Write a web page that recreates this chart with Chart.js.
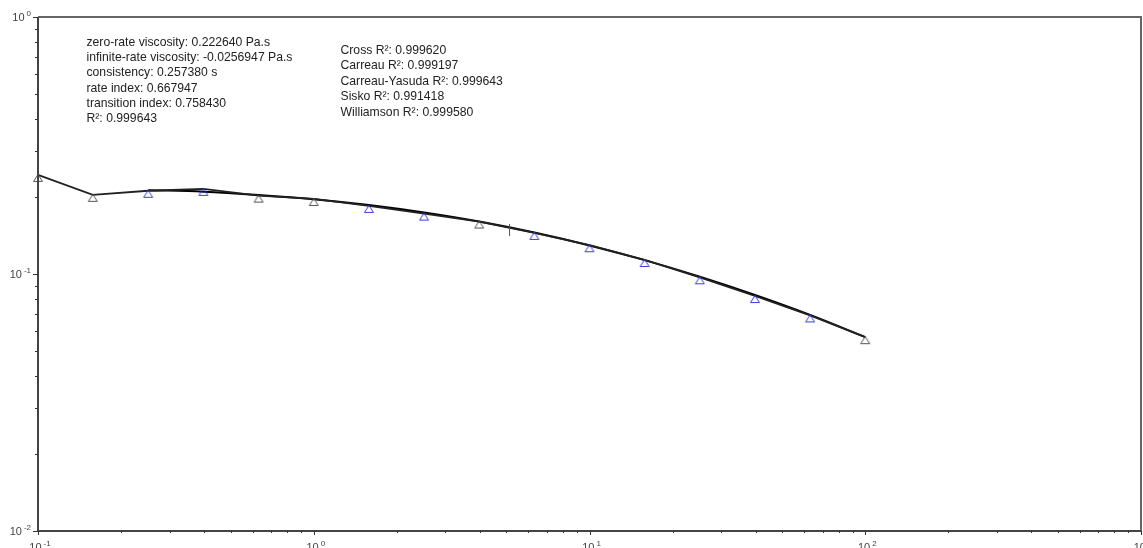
<!DOCTYPE html>
<html>
<head>
<meta charset="utf-8">
<script src="https://cdn.jsdelivr.net/npm/chart.js@4.4.1/dist/chart.umd.min.js"></script>
<style>
  html, body { margin: 0; padding: 0; background: #fff; }
  #wrap { width: 1143px; height: 548px; }
</style>
</head>
<body>
<div id="wrap"><canvas id="myChart" width="1143" height="548"></canvas></div>
<script>
// shear rate (x) and viscosity (y)
var shearRates = [0.1, 0.158, 0.251, 0.398, 0.631, 1, 1.585, 2.512, 3.981, 6.31, 10, 15.85, 25.12, 39.81, 63.1, 100];
var viscosity = [0.243, 0.2032, 0.2108, 0.2145, 0.2019, 0.196, 0.1841, 0.1718, 0.160, 0.1445, 0.1294, 0.1134, 0.0971, 0.0821, 0.069, 0.0568];
// which points are drawn blue (1) or grey (0)
var pointSelected = [0, 0, 1, 1, 0, 0, 1, 1, 0, 1, 1, 1, 1, 1, 1, 0];

// Carreau-Yasuda fit curve
var fitRates = [0.251, 0.398, 0.631, 1, 1.585, 2.512, 3.981, 6.31, 10, 15.85, 25.12, 39.81, 63.1, 100];
var fitViscosity = [0.212, 0.209, 0.203, 0.1955, 0.1855, 0.1735, 0.160, 0.145, 0.1292, 0.1132, 0.0976, 0.0829, 0.0693, 0.0568];

var markerRate = [5.13];
var markerViscosity = [0.1484];

var xDecades = [0.1, 1, 10, 100, 1000];
var xExponents = ["-1", "0", "1", "2", "3"];
var yDecades = [1, 0.1, 0.01];
var yExponents = ["0", "-1", "-2"];

var paramLines = [
    "zero-rate viscosity: 0.222640 Pa.s",
    "infinite-rate viscosity: -0.0256947 Pa.s",
    "consistency: 0.257380 s",
    "rate index: 0.667947",
    "transition index: 0.758430",
    "R\u00b2: 0.999643"
];
var modelLines = [
    "Cross R\u00b2: 0.999620",
    "Carreau R\u00b2: 0.999197",
    "Carreau-Yasuda R\u00b2: 0.999643",
    "Sisko R\u00b2: 0.991418",
    "Williamson R\u00b2: 0.999580"
];

function makeTriangle(color) {
    var c = document.createElement('canvas');
    c.width = 12;
    c.height = 16;
    var g = c.getContext('2d');
    g.strokeStyle = color;
    g.lineWidth = 1;
    g.beginPath();
    g.moveTo(6, 7.5);
    g.lineTo(10.5, 14.5);
    g.lineTo(1.5, 14.5);
    g.closePath();
    g.stroke();
    return c;
}
var greyTri = makeTriangle('#555');
var blueTri = makeTriangle('#3b3bea');

function toPoints(xs, ys) {
    var pts = [];
    for (var i = 0; i < xs.length; i++) pts.push({ x: xs[i], y: ys[i] });
    return pts;
}

function drawLabel(ctx, x, y, exp, align) {
    ctx.font = '11px "Liberation Sans", Arial, sans-serif';
    var w1 = ctx.measureText('10').width;
    ctx.font = '8px "Liberation Sans", Arial, sans-serif';
    var w2 = ctx.measureText(exp).width;
    var gap = 2;
    var x0 = align === 'right' ? x - (w1 + gap + w2) : x - (w1 + gap + w2) / 2;
    ctx.textAlign = 'left';
    ctx.textBaseline = 'alphabetic';
    ctx.font = '11px "Liberation Sans", Arial, sans-serif';
    ctx.fillText('10', x0, y);
    ctx.font = '8px "Liberation Sans", Arial, sans-serif';
    ctx.fillText(exp, x0 + w1 + gap, y - 5);
}

var framePlugin = {
    id: 'frame',
    afterDraw: function (chart) {
        var ctx = chart.ctx;
        var a = chart.chartArea;
        var xs = chart.scales.x, ys = chart.scales.y;
        ctx.save();

        // frame
        ctx.lineWidth = 2;
        ctx.strokeStyle = '#666';
        ctx.beginPath();
        ctx.moveTo(a.left, a.top);
        ctx.lineTo(a.right, a.top);
        ctx.lineTo(a.right, a.bottom);
        ctx.stroke();
        ctx.strokeStyle = '#444';
        ctx.beginPath();
        ctx.moveTo(a.left, a.top);
        ctx.lineTo(a.left, a.bottom);
        ctx.lineTo(a.right, a.bottom);
        ctx.stroke();

        // ticks
        ctx.lineWidth = 1;
        ctx.strokeStyle = '#333';
        for (var d = 0; d < xDecades.length; d++) {
            for (var m = 1; m <= 9; m++) {
                if (d === xDecades.length - 1 && m > 1) break;
                var px = Math.round(xs.getPixelForValue(xDecades[d] * m)) + 0.5;
                ctx.beginPath();
                ctx.moveTo(px, a.bottom);
                ctx.lineTo(px, a.bottom + (m === 1 ? 4 : 2));
                ctx.stroke();
            }
        }
        for (var e = 0; e < yDecades.length; e++) {
            for (var k = 1; k <= 9; k++) {
                if (e === 0 && k > 1) break;
                var py = Math.round(ys.getPixelForValue(yDecades[e] * k)) + 0.5;
                ctx.beginPath();
                ctx.moveTo(a.left, py);
                ctx.lineTo(a.left - (k === 1 ? 5 : 3), py);
                ctx.stroke();
            }
        }

        // tick labels
        ctx.fillStyle = '#444';
        for (var i = 0; i < xDecades.length; i++) {
            drawLabel(ctx, xs.getPixelForValue(xDecades[i]) + 2, 551, xExponents[i], 'center');
        }
        for (var j = 0; j < yDecades.length; j++) {
            drawLabel(ctx, 31, ys.getPixelForValue(yDecades[j]) + 4, yExponents[j], 'right');
        }

        // fit parameters
        ctx.fillStyle = '#222';
        ctx.font = '12.2px "Liberation Sans", Arial, sans-serif';
        ctx.textAlign = 'left';
        ctx.textBaseline = 'alphabetic';
        paramLines.forEach(function (t, n) {
            ctx.fillText(t, 86.5, 45.5 + n * 15.35);
        });
        modelLines.forEach(function (t, n) {
            ctx.fillText(t, 340.5, 53.5 + n * 15.6);
        });
        ctx.restore();
    }
};

var myChart = new Chart("myChart", {
    type: "scatter",
    data: {
        datasets: [{
            data: toPoints(shearRates, viscosity),
            showLine: true,
            borderColor: '#222',
            borderWidth: 1.8,
            pointStyle: pointSelected.map(function (s) { return s ? blueTri : greyTri; }),
            pointRadius: 6,
            clip: false,
            order: 1
        }, {
            data: toPoints(fitRates, fitViscosity),
            showLine: true,
            borderColor: '#000',
            borderWidth: 2,
            cubicInterpolationMode: 'monotone',
            pointRadius: 0,
            order: 2
        }, {
            data: toPoints(markerRate, markerViscosity),
            showLine: false,
            pointStyle: 'line',
            rotation: 90,
            pointRadius: 6,
            borderColor: '#555',
            borderWidth: 1,
            order: 0
        }]
    },
    options: {
        responsive: false,
        animation: false,
        events: [],
        layout: { autoPadding: false, padding: { left: 38, top: 17, right: 2, bottom: 17 } },
        plugins: {
            legend: { display: false },
            tooltip: { enabled: false },
            title: { display: false }
        },
        scales: {
            x: { type: 'logarithmic', min: 0.1, max: 1000, display: false },
            y: { type: 'logarithmic', min: 0.01, max: 1, display: false }
        }
    },
    plugins: [framePlugin]
});
</script>
</body>
</html>
